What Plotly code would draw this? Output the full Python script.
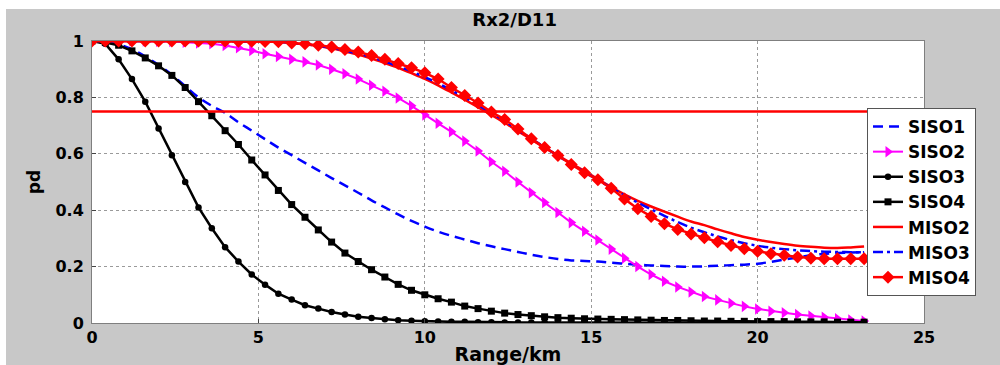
import plotly.graph_objects as go

RANGE_KM = [0.0, 0.4, 0.8, 1.2, 1.6, 2.0, 2.4, 2.8, 3.2, 3.6,
            4.0, 4.4, 4.8, 5.2, 5.6, 6.0, 6.4, 6.8, 7.2, 7.6,
            8.0, 8.4, 8.8, 9.2, 9.6, 10.0, 10.4, 10.8, 11.2, 11.6,
            12.0, 12.4, 12.8, 13.2, 13.6, 14.0, 14.4, 14.8, 15.2, 15.6,
            16.0, 16.4, 16.8, 17.2, 17.6, 18.0, 18.4, 18.8, 19.2, 19.6,
            20.0, 20.4, 20.8, 21.2, 21.6, 22.0, 22.4, 22.8, 23.2]

SISO1 = [1.0, 0.997, 0.988, 0.97, 0.945, 0.915, 0.88, 0.84, 0.80, 0.77,
         0.745, 0.712, 0.682, 0.652, 0.622, 0.595, 0.568, 0.541, 0.514, 0.488,
         0.462, 0.435, 0.41, 0.385, 0.362, 0.342, 0.324, 0.309, 0.296, 0.283,
         0.272, 0.262, 0.252, 0.242, 0.234, 0.227, 0.222, 0.22, 0.218, 0.214,
         0.21, 0.207, 0.204, 0.202, 0.2, 0.2, 0.201, 0.203, 0.205, 0.207,
         0.21, 0.217, 0.225, 0.232, 0.24, 0.245, 0.248, 0.25, 0.251]

SISO2 = [1.0, 1.0, 1.0, 1.0, 1.0, 0.999, 0.998, 0.996, 0.993, 0.99,
         0.984, 0.976, 0.966, 0.955, 0.945, 0.935, 0.926, 0.915, 0.9, 0.884,
         0.865, 0.843, 0.822, 0.798, 0.77, 0.738, 0.708, 0.678, 0.645, 0.61,
         0.572, 0.538, 0.5, 0.462, 0.427, 0.392, 0.356, 0.325, 0.294, 0.262,
         0.23, 0.2, 0.172, 0.148, 0.128, 0.11, 0.094, 0.082, 0.07, 0.059,
         0.05, 0.042, 0.036, 0.03, 0.025, 0.02, 0.015, 0.011, 0.007]

SISO3 = [1.0, 0.99, 0.935, 0.865, 0.785, 0.69, 0.595, 0.50, 0.41, 0.336,
         0.269, 0.218, 0.172, 0.136, 0.104, 0.083, 0.063, 0.051, 0.039, 0.03,
         0.022, 0.018, 0.013, 0.01, 0.008, 0.006, 0.005, 0.004, 0.004, 0.003,
         0.003, 0.002, 0.002, 0.002, 0.002, 0.001, 0.001, 0.001, 0.001, 0.001,
         0.001, 0.001, 0.001, 0.001, 0.001, 0.0, 0.0, 0.0, 0.0, 0.0,
         0.0, 0.0, 0.0, 0.0, 0.0, 0.0, 0.0, 0.0, 0.0]

SISO4 = [1.0, 0.995, 0.985, 0.965, 0.94, 0.912, 0.878, 0.835, 0.785, 0.735,
         0.682, 0.633, 0.578, 0.525, 0.47, 0.42, 0.375, 0.33, 0.287, 0.248,
         0.218, 0.189, 0.163, 0.137, 0.116, 0.1, 0.086, 0.074, 0.06, 0.051,
         0.042, 0.035, 0.03, 0.026, 0.022, 0.019, 0.017, 0.015, 0.014, 0.013,
         0.012, 0.011, 0.01, 0.009, 0.009, 0.008, 0.007, 0.007, 0.006, 0.006,
         0.005, 0.005, 0.005, 0.004, 0.004, 0.004, 0.003, 0.003, 0.003]

MISO2 = [1.0, 1.0, 1.0, 1.0, 1.0, 1.0, 1.0, 1.0, 1.0, 1.0,
         0.999, 0.999, 0.998, 0.998, 0.997, 0.993, 0.988, 0.982, 0.974, 0.963,
         0.952, 0.938, 0.922, 0.905, 0.886, 0.866, 0.843, 0.818, 0.792, 0.765,
         0.738, 0.71, 0.68, 0.651, 0.622, 0.594, 0.566, 0.539, 0.51, 0.482,
         0.456, 0.433, 0.413, 0.395, 0.377, 0.36, 0.347, 0.332, 0.318, 0.305,
         0.295, 0.287, 0.28, 0.274, 0.27, 0.267, 0.266, 0.268, 0.271]

MISO3 = [1.0, 1.0, 1.0, 1.0, 1.0, 1.0, 1.0, 1.0, 1.0, 1.0,
         0.999, 0.999, 0.998, 0.998, 0.997, 0.993, 0.989, 0.983, 0.976, 0.966,
         0.955, 0.942, 0.927, 0.91, 0.892, 0.872, 0.85, 0.825, 0.8, 0.773,
         0.745, 0.716, 0.685, 0.654, 0.623, 0.593, 0.563, 0.535, 0.507, 0.48,
         0.452, 0.427, 0.403, 0.38, 0.358, 0.338, 0.322, 0.307, 0.294, 0.283,
         0.274, 0.267, 0.262, 0.258, 0.255, 0.253, 0.252, 0.251, 0.251]

MISO4 = [1.0, 1.0, 1.0, 1.0, 1.0, 1.0, 1.0, 1.0, 1.0, 1.0,
         1.0, 0.999, 0.999, 0.998, 0.997, 0.993, 0.99, 0.985, 0.979, 0.97,
         0.961, 0.949, 0.935, 0.92, 0.905, 0.887, 0.865, 0.835, 0.807, 0.78,
         0.748, 0.722, 0.688, 0.653, 0.622, 0.594, 0.562, 0.533, 0.508, 0.478,
         0.44, 0.405, 0.378, 0.352, 0.332, 0.316, 0.302, 0.288, 0.275, 0.263,
         0.254, 0.246, 0.24, 0.234, 0.23, 0.228, 0.228, 0.228, 0.228]

THRESHOLD = 0.75
X_TICKS = [0, 5, 10, 15, 20, 25]
Y_TICKS = [0, 0.2, 0.4, 0.6, 0.8, 1]
Y_TICK_TEXT = ["0", "0.2", "0.4", "0.6", "0.8", "1"]

FONT = "DejaVu Sans"
GRAY = "#c8c8c8"

fig = go.Figure()

series = [
    ("SISO1", SISO1, dict(color="#0000ff", width=2.5, dash="10px,6px"), None),
    ("SISO2", SISO2, dict(color="#ff00ff", width=2), dict(symbol="triangle-right", size=10)),
    ("SISO3", SISO3, dict(color="#000000", width=2.5), dict(symbol="circle", size=6.5)),
    ("SISO4", SISO4, dict(color="#000000", width=2.5), dict(symbol="square", size=7)),
    ("MISO2", MISO2, dict(color="#ff0000", width=2.5), None),
    ("MISO3", MISO3, dict(color="#0000ff", width=2.5, dash="10px,4px,3px,4px"), None),
    ("MISO4", MISO4, dict(color="#ff0000", width=2.5), dict(symbol="diamond", size=10)),
]

for name, ys, line, marker in series:
    if marker is None:
        fig.add_trace(go.Scatter(x=RANGE_KM, y=ys, name=name, mode="lines",
                                 line=line, line_shape="spline"))
    else:
        marker = dict(marker, color=line["color"], line=dict(width=0))
        fig.add_trace(go.Scatter(x=RANGE_KM, y=ys, name=name, mode="lines+markers",
                                 line=line, marker=marker))

fig.add_hline(y=THRESHOLD, line=dict(color="#ff0000", width=2.5), layer="above")

# white outer strips (top and left) over the gray figure background
fig.add_shape(type="rect", xref="paper", yref="paper",
              x0=-0.2, x1=1.2, y0=(323 - 9) / 282, y1=1.3,
              fillcolor="white", line=dict(width=0), layer="below")
fig.add_shape(type="rect", xref="paper", yref="paper",
              x0=-0.2, x1=(6 - 92) / 832, y0=-0.3, y1=1.3,
              fillcolor="white", line=dict(width=0), layer="below")

axis_common = dict(
    showline=True, mirror=True, linecolor="#7f7f7f", linewidth=1,
    showgrid=True, gridcolor="#9a9a9a", griddash="dot", gridwidth=1,
    ticks="inside", ticklen=4, tickcolor="#444",
    tickfont=dict(family=FONT, size=16, color="black", weight="bold"),
    zeroline=False, automargin=False,
)

fig.update_xaxes(range=[0, 25], tickvals=X_TICKS, **axis_common,
                 title=dict(text="Range/km", standoff=2,
                            font=dict(family=FONT, size=19, color="black", weight="bold")))
fig.update_yaxes(range=[0, 1], tickvals=Y_TICKS, ticktext=Y_TICK_TEXT, **axis_common,
                 ticklabelstandoff=4,
                 title=dict(text="pd", standoff=10,
                            font=dict(family=FONT, size=17, color="black", weight="bold")))

fig.update_layout(
    width=1000, height=365,
    margin=dict(l=92, r=76, t=41, b=42, autoexpand=False),
    paper_bgcolor=GRAY, plot_bgcolor="white",
    title=dict(text="Rx2/D11", x=0.508, xref="paper", xanchor="center",
               y=1 - 20 / 365, yanchor="middle",
               font=dict(family=FONT, size=18, color="black", weight="bold")),
    legend=dict(x=(867 - 92) / 832, xanchor="left", y=(323 - 108) / 282, yanchor="top",
                bgcolor="white", bordercolor="#555", borderwidth=1,
                font=dict(family=FONT, size=17, color="black", weight="bold"),
                tracegroupgap=0, itemwidth=30),
    showlegend=True,
)

fig.write_html("out.html")
